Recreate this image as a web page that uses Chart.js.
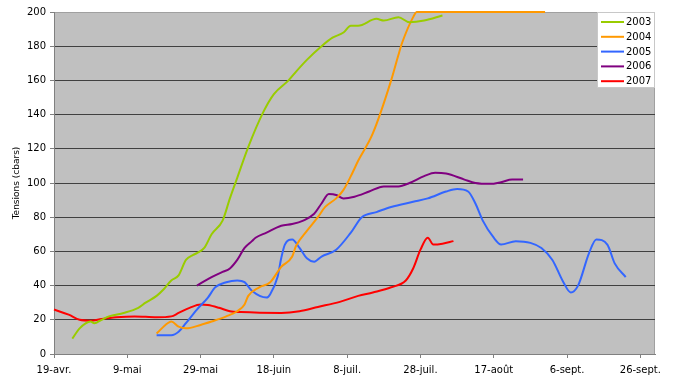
<!DOCTYPE html>
<html>
<head>
<meta charset="utf-8">
<script src="https://cdn.jsdelivr.net/npm/chart.js@4.4.1/dist/chart.umd.min.js"></script>
<style>
  html, body { margin: 0; padding: 0; background: #fff; }
  #wrap { width: 680px; height: 380px; }
</style>
</head>
<body>
<div id="wrap"><canvas id="c"></canvas></div>
<script>
// jours depuis le 19 avril
const tickDays = [0, 20, 40, 60, 80, 100, 120, 140, 160];
const tickLabels = ['19-avr.', '9-mai', '29-mai', '18-juin', '8-juil.', '28-juil.', '17-août', '6-sept.', '26-sept.'];

const days2003 = [5, 7, 10, 11, 13, 15, 19, 23, 25, 28, 30, 32, 34, 36, 38, 39, 41, 43, 46, 48, 50, 53, 57, 60, 64, 66, 69, 73, 76, 79, 81, 83, 88, 90, 94, 97, 101, 106];
const vals2003 = [9, 15, 19, 18, 20, 22, 24, 27, 30, 34, 38, 43, 46, 55, 58, 59, 62, 70, 78, 91, 103, 121, 141, 152, 160, 165, 172, 180, 185, 188, 192, 192, 196, 195, 197, 194, 195, 198];

const days2004 = [28, 31, 32, 34, 36, 40, 43, 47, 50, 52, 53, 56, 59, 62, 65, 66, 69, 72, 74, 77, 79, 81, 83, 87, 92, 94, 95, 98, 99, 134];
const vals2004 = [12, 18, 19, 16, 15, 17, 19, 22, 25, 29, 34, 39, 42, 51, 57, 63, 72, 80, 86, 91, 96, 104, 113, 129, 160, 175, 182, 197, 200, 200];

const days2005 = [28, 32, 34, 36, 39, 42, 44, 47, 50, 52, 54, 58, 59, 61, 62, 63, 65, 67, 69, 71, 73, 77, 81, 84, 88, 92, 98, 102, 107, 110, 113, 115, 117, 120, 122, 126, 130, 133, 136, 139, 141, 143, 146, 148, 151, 153, 156];
const vals2005 = [11, 11, 13, 18, 26, 33, 39, 42, 43, 42, 37, 33, 35, 45, 56, 64, 67, 62, 56, 54, 57, 61, 71, 80, 83, 86, 89, 91, 95, 96.5, 95, 88, 78, 68, 64, 66, 65, 62, 55, 42, 36, 40, 59, 67, 64, 53, 45];

const days2006 = [39, 43, 46, 48, 50, 52, 54, 55, 58, 62, 65, 68, 71, 73, 75, 77, 79, 82, 86, 90, 94, 97, 101, 104, 107, 112, 115, 119, 122, 125, 128];
const vals2006 = [40, 45, 48, 50, 55, 62, 66, 68, 71, 75, 76, 78, 82, 88, 93.5, 93, 91, 92, 95, 98, 98, 100, 104, 106, 105.5, 102, 100, 99.5, 100.5, 102, 102];

const days2007 = [0, 4, 7, 10, 13, 17, 22, 28, 32, 34, 37, 40, 42, 45, 48, 51, 62, 67, 72, 78, 83, 87, 92, 96, 98, 100, 102, 103.5, 106, 109];
const vals2007 = [26, 23, 20, 19.5, 20.5, 21.5, 22, 21.5, 22, 24, 27, 29, 28.6, 27, 25, 24.5, 24, 25, 27.5, 30.5, 34, 36, 39, 43, 50, 61, 68, 64, 64.5, 66];

const pts = (d, v) => d.map((x, i) => ({ x: x, y: v[i] }));

const FONT = 'DejaVu Sans, Verdana, sans-serif';

// fond gris + bordure de la zone de tracé
const plotBg = {
  id: 'plotBg',
  beforeDraw(chart) {
    const { ctx, chartArea: a } = chart;
    ctx.save();
    ctx.fillStyle = '#c0c0c0';
    ctx.fillRect(a.left, a.top, a.right - a.left, a.bottom - a.top);
    ctx.strokeStyle = '#a0a0a0';
    ctx.lineWidth = 1;
    ctx.strokeRect(a.left + 0.5, a.top + 0.5, a.right - a.left - 1, a.bottom - a.top);
    ctx.restore();
  }
};

// légende en haut à droite, dans la zone de tracé
const boxLegend = {
  id: 'boxLegend',
  afterDraw(chart) {
    const { ctx } = chart;
    const x0 = 597, y0 = 12, w = 58, h = 76;
    ctx.save();
    ctx.fillStyle = '#fff';
    ctx.fillRect(x0, y0, w, h);
    ctx.strokeStyle = '#c8c8c8';
    ctx.lineWidth = 1;
    ctx.strokeRect(x0 + 0.5, y0 + 0.5, w - 1, h - 1);
    ctx.font = '10px ' + FONT;
    ctx.textBaseline = 'middle';
    chart.data.datasets.forEach((ds, i) => {
      const y = 22 + i * 14.8;
      ctx.strokeStyle = ds.borderColor;
      ctx.lineWidth = 2;
      ctx.beginPath();
      ctx.moveTo(601, y);
      ctx.lineTo(624, y);
      ctx.stroke();
      ctx.fillStyle = '#000';
      ctx.fillText(ds.label, 626, y + 0.5);
    });
    ctx.restore();
  }
};

const line = (label, color, d, v) => ({
  label: label,
  data: pts(d, v),
  borderColor: color,
  backgroundColor: color,
  borderWidth: 2,
  pointRadius: 0,
  fill: false,
  cubicInterpolationMode: 'monotone',
  clip: 4
});

new Chart(document.getElementById('c'), {
  type: 'line',
  data: {
    datasets: [
      line('2003', '#99cc00', days2003, vals2003),
      line('2004', '#ff9900', days2004, vals2004),
      line('2005', '#3366ff', days2005, vals2005),
      line('2006', '#800080', days2006, vals2006),
      line('2007', '#ff0000', days2007, vals2007)
    ]
  },
  options: {
    responsive: true,
    maintainAspectRatio: false,
    animation: false,
    layout: { padding: { top: 12, right: 25, left: 0, bottom: 0 } },
    plugins: {
      legend: { display: false },
      tooltip: { enabled: false }
    },
    scales: {
      x: {
        type: 'linear',
        min: 0,
        max: 164,
        afterBuildTicks: (s) => { s.ticks = tickDays.map(v => ({ value: v })); },
        afterFit: (s) => { s.height = 26; },
        grid: { drawOnChartArea: false, color: '#808080', tickLength: 4 },
        border: { color: '#808080', width: 1 },
        ticks: {
          padding: 6,
          maxRotation: 0,
          autoSkip: false,
          color: '#000',
          font: { family: FONT, size: 10 },
          callback: (v) => tickLabels[tickDays.indexOf(v)]
        }
      },
      y: {
        min: 0,
        max: 200,
        afterFit: (s) => { s.width = 54; },
        grid: {
          color: (c) => (c.tick && c.tick.value === 200 ? '#a0a0a0' : '#404040'),
          tickColor: '#808080',
          tickLength: 4
        },
        border: { color: '#808080', width: 1 },
        ticks: {
          stepSize: 20,
          padding: 4,
          color: '#000',
          font: { family: FONT, size: 10 }
        },
        title: {
          display: true,
          text: 'Tensions (cbars)',
          color: '#000',
          font: { family: FONT, size: 9 },
          padding: { top: 11, bottom: 0 }
        }
      }
    }
  },
  plugins: [plotBg, boxLegend]
});
</script>
</body>
</html>
